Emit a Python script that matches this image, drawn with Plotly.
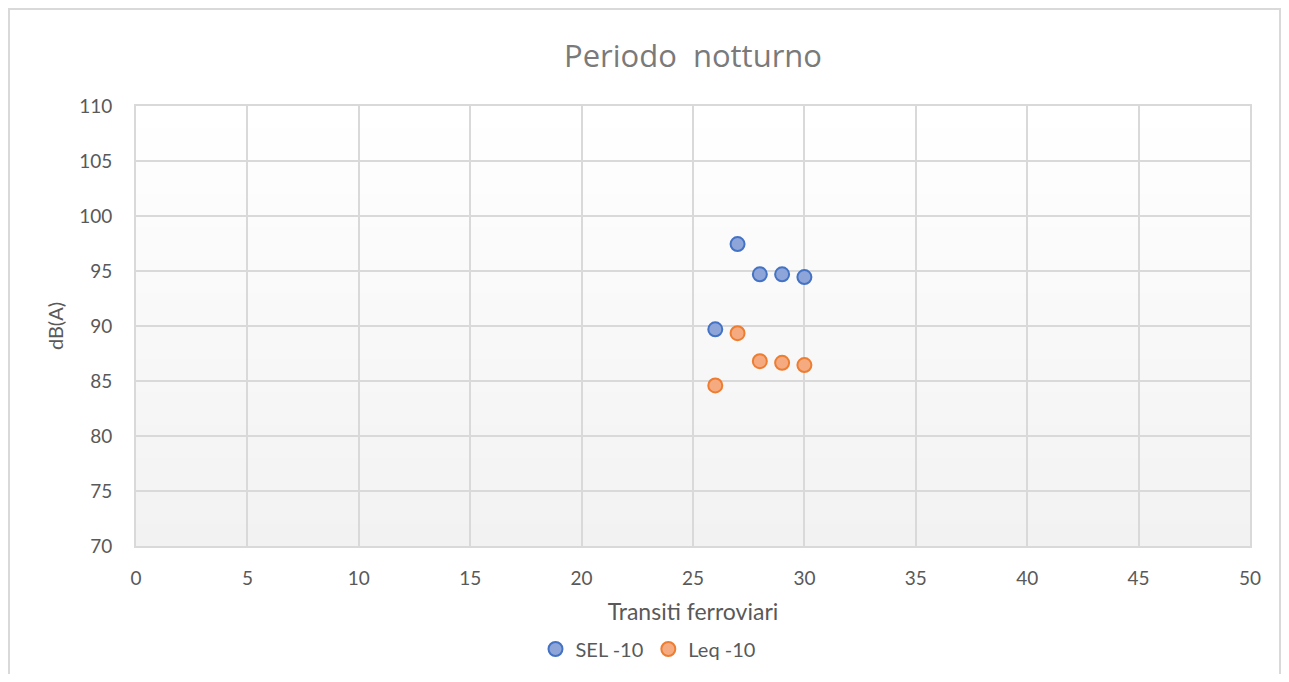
import plotly.graph_objects as go

transits_sel = [26, 27, 28, 29, 30]
sel_values = [89.7, 97.45, 94.7, 94.7, 94.45]
transits_leq = [26, 27, 28, 29, 30]
leq_values = [84.6, 89.35, 86.8, 86.65, 86.45]

OFF = 8  # page body margin
W, H = 1289 - 2 * OFF, 682 - 2 * OFF
L, T = 136 - OFF, 106 - OFF
pw, ph = 1114, 440
R = W - L - pw
B = H - T - ph

def px(xpage):
    return (xpage - OFF - L) / pw

def py(ypage):
    return 1 - (ypage - OFF - T) / ph

fig = go.Figure()
fig.add_trace(go.Scatter(
    x=transits_sel, y=sel_values, mode="markers", name="SEL -10",
    marker=dict(size=14, color="#8da5d8", line=dict(color="#4472c4", width=2)),
))
fig.add_trace(go.Scatter(
    x=transits_leq, y=leq_values, mode="markers", name="Leq -10",
    marker=dict(size=14, color="#f5aa80", line=dict(color="#ed7d31", width=2)),
))

shapes = []
n = 40
for i in range(n):
    g = int(round(255 - 13 * (1 - (i + 0.5) / n)))
    col = f"rgb({g},{g},{g})"
    shapes.append(dict(type="rect", xref="x domain", yref="y domain",
                       x0=0, x1=1, y0=i / n, y1=(i + 1) / n,
                       fillcolor=col, line=dict(width=0), layer="below"))
shapes.append(dict(type="rect", xref="paper", yref="paper",
                   x0=px(9), x1=px(1280), y0=py(700), y1=py(9),
                   line=dict(color="#d9d9d9", width=2), fillcolor="rgba(0,0,0,0)"))

fig.update_layout(
    width=W, height=H,
    margin=dict(l=L, r=R, t=T, b=B, autoexpand=False),
    paper_bgcolor="white", plot_bgcolor="white",
    font=dict(family="Lato, Open Sans, sans-serif", color="#595959"),
    title=dict(text="Periodo  notturno", x=0.5, xref="paper", xanchor="center",
               y=1 - (56 - OFF) / H, yanchor="middle",
               font=dict(family="Open Sans, sans-serif", size=31, color="#7a7a7a")),
    shapes=shapes,
    showlegend=True,
    legend=dict(orientation="h", x=px(648), xanchor="center", y=py(649),
                yanchor="middle", font=dict(size=20, color="#595959"),
                itemwidth=30, tracegroupgap=0),
    xaxis=dict(range=[0, 50], dtick=5, tick0=0, showgrid=True, gridcolor="#d9d9d9",
               gridwidth=2, zeroline=False, showline=True, linecolor="#d9d9d9",
               linewidth=2, mirror=True, ticks="outside", ticklen=14,
               tickcolor="rgba(0,0,0,0)", tickfont=dict(size=19), automargin=False,
               title=dict(text="Transiti ferroviari", font=dict(size=23), standoff=16)),
    yaxis=dict(range=[70, 110], dtick=5, tick0=70, showgrid=True, gridcolor="#d9d9d9",
               gridwidth=2, zeroline=False, showline=True, linecolor="#d9d9d9",
               linewidth=2, mirror=True, ticks="outside", ticklen=18,
               tickcolor="rgba(0,0,0,0)", tickfont=dict(size=19), automargin=False,
               title=dict(text="dB(A)", font=dict(size=20), standoff=10)),
)
fig.write_html("out.html")
